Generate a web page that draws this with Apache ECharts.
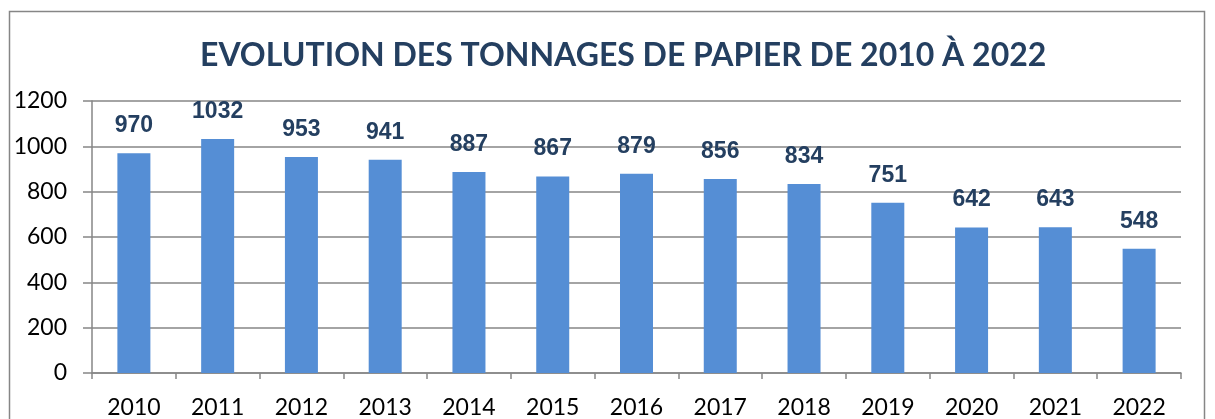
<!DOCTYPE html>
<html>
<head>
<meta charset="utf-8">
<script src="https://cdn.jsdelivr.net/npm/echarts@6/dist/echarts.min.js"></script>
<style>
  html, body { margin: 0; padding: 0; background: #fff; }
  #chart { width: 1215px; height: 419px; }
</style>
</head>
<body>
<div id="chart"></div>
<script>
const years = ['2010', '2011', '2012', '2013', '2014', '2015', '2016', '2017', '2018', '2019', '2020', '2021', '2022'];
const tonnages = [970, 1032, 953, 941, 887, 867, 879, 856, 834, 751, 642, 643, 548];

const chartDom = document.getElementById('chart');
const chart = echarts.init(chartDom);

chart.setOption({
    animation: false,
    title: {
        text: 'EVOLUTION DES TONNAGES DE PAPIER DE 2010 À 2022',
        left: 195,
        top: 35,
        textStyle: { fontFamily: 'Lato', fontWeight: 'bold', fontSize: 32, color: '#243F60' }
    },
    graphic: [{
        type: 'rect',
        shape: { x: 9.5, y: 11.5, width: 1195, height: 420 },
        style: { fill: null, stroke: '#868686', lineWidth: 1.5 },
        silent: true
    }],
    grid: { left: 92, right: 34, top: 101, bottom: 45 },
    xAxis: {
        type: 'category',
        data: years,
        axisLine: { lineStyle: { color: '#868686', width: 1.5 } },
        axisTick: { show: true, length: 6, lineStyle: { color: '#868686', width: 1.5 } },
        axisLabel: { margin: 23, fontFamily: 'Lato', fontSize: 23, color: '#000' }
    },
    yAxis: {
        type: 'value',
        min: 0,
        max: 1200,
        interval: 200,
        axisLine: { show: true, lineStyle: { color: '#868686', width: 1.5 } },
        axisTick: { show: true, length: 9, lineStyle: { color: '#868686', width: 1.5 } },
        splitLine: { lineStyle: { color: '#868686', width: 1.5 } },
        axisLabel: {
            margin: 25,
            fontFamily: 'Lato',
            fontSize: 23,
            color: '#000',
            formatter: function (v) { return String(v); }
        }
    },
    series: [{
        type: 'bar',
        data: tonnages,
        barWidth: 33,
        itemStyle: { color: '#558ED5' },
        label: {
            show: true,
            position: 'top',
            distance: 16,
            fontFamily: 'Arial, Liberation Sans',
            fontWeight: 'bold',
            fontSize: 23,
            color: '#243F60'
        }
    }]
});
</script>
</body>
</html>
